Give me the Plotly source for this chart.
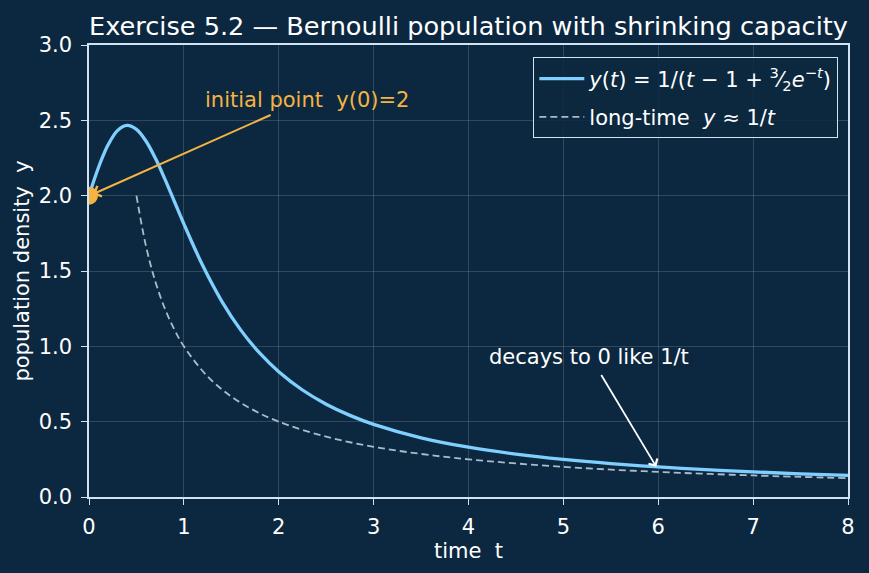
import plotly.graph_objects as go

# solution curve samples y(t) = 1/(t - 1 + 1.5 e^{-t})
t_sol = [0.0, 0.05, 0.1, 0.15, 0.2, 0.3, 0.4, 0.5, 0.6, 0.7, 0.8, 0.9, 1.0, 1.2, 1.4, 1.6, 1.8, 2.0,
         2.25, 2.5, 2.75, 3.0, 3.5, 4.0, 4.5, 5.0, 5.5, 6.0, 6.5, 7.0, 7.5, 8.0]
y_sol = [2.0, 2.0978, 2.1870, 2.2667, 2.3359, 2.4318, 2.4662, 2.4402, 2.3628, 2.2478, 2.1097, 1.9613,
         1.8122, 1.5342, 1.2989, 1.1076, 0.9542, 0.8313, 0.7102, 0.6161, 0.5417, 0.4820, 0.3929,
         0.3303, 0.2844, 0.2494, 0.2219, 0.1999, 0.1817, 0.1666, 0.1538, 0.1429]

# long-time approximation y ~ 1/t
t_asym = [0.5, 0.6, 0.7, 0.8, 0.9, 1.0, 1.25, 1.5, 1.75, 2.0, 2.5, 3.0, 3.5, 4.0, 5.0, 6.0, 7.0, 8.0]
y_asym = [2.0, 1.6667, 1.4286, 1.25, 1.1111, 1.0, 0.8, 0.6667, 0.5714, 0.5, 0.4, 0.3333, 0.2857,
          0.25, 0.2, 0.1667, 0.1429, 0.125]

t0, y0 = [0.0], [2.0]

x_ticks = [0, 1, 2, 3, 4, 5, 6, 7, 8]
y_ticks = [0.0, 0.5, 1.0, 1.5, 2.0, 2.5, 3.0]

BG = "#0c2840"
FG = "#ffffff"
AX = "#cfe3f2"
BLUE = "#80d0ff"
GRAY = "#a9bccb"
ORANGE = "#f5b342"
FONT = "DejaVu Sans, sans-serif"
FS = 21

fig = go.Figure()
fig.add_trace(go.Scatter(
    x=t_sol, y=y_sol, mode="lines", line=dict(color=BLUE, width=3.3, shape="spline"),
    legendgroup="a",
    name="<i>y</i>(<i>t</i>) = 1/(<i>t</i> − 1 + <sup>3</sup>⁄<sub>2</sub><i>e</i><sup>−<i>t</i></sup>)"))
fig.add_trace(go.Scatter(
    x=t_asym, y=y_asym, mode="lines", line=dict(color=GRAY, width=1.8, dash="7px,4px", shape="spline"),
    legendgroup="b",
    name="long-time  <i>y</i> ≈ 1/<i>t</i>"))
fig.add_trace(go.Scatter(
    x=t0, y=y0, mode="markers", marker=dict(color=ORANGE, size=18), showlegend=False))

fig.add_annotation(x=0.04, y=2.01, ax=1.93, ay=2.54, xref="x", yref="y", axref="x", ayref="y",
                   text="", showarrow=True, arrowhead=4, arrowsize=1.1, arrowwidth=2, arrowcolor=ORANGE)
fig.add_annotation(x=1.2, y=2.635, xref="x", yref="y", text="initial point  y(0)=2", showarrow=False,
                   xanchor="left", yanchor="middle", font=dict(color=ORANGE, size=FS, family=FONT))
fig.add_annotation(x=5.98, y=0.2, ax=5.39, ay=0.82, xref="x", yref="y", axref="x", ayref="y",
                   text="", showarrow=True, arrowhead=4, arrowsize=1.1, arrowwidth=1.8, arrowcolor=FG)
fig.add_annotation(x=4.2, y=0.929, xref="x", yref="y", text="decays to 0 like 1/t", showarrow=False,
                   xanchor="left", yanchor="middle", font=dict(color=FG, size=FS, family=FONT))

axis_common = dict(showline=True, linecolor=AX, linewidth=1.5, mirror=True, ticks="outside",
                   ticklen=6, tickwidth=1.2, tickcolor=AX, gridcolor="rgba(255,255,255,0.15)",
                   gridwidth=1, zeroline=False, tickfont=dict(color=FG, size=FS, family=FONT))
fig.update_xaxes(range=[0, 8], tickvals=x_ticks, ticklabelstandoff=4,
                 title=dict(text="time  t", font=dict(color=FG, size=FS, family=FONT), standoff=4),
                 **axis_common)
fig.update_yaxes(range=[0, 3], tickvals=y_ticks, tickformat=".1f", ticklabelstandoff=5,
                 title=dict(text="population density  y", font=dict(color=FG, size=FS, family=FONT), standoff=3),
                 **axis_common)

fig.update_layout(
    width=869, height=573, paper_bgcolor=BG, plot_bgcolor=BG,
    margin=dict(l=89, r=21, t=45, b=76),
    title=dict(text="Exercise 5.2 — Bernoulli population with shrinking capacity", x=0.5, xref="paper",
               y=0.955, yref="container", xanchor="center", yanchor="middle",
               font=dict(color=FG, size=25.6, family=FONT)),
    font=dict(family=FONT, color=FG),
    legend=dict(x=0.987, y=0.973, xanchor="right", yanchor="top", bgcolor="rgba(12,40,64,0.85)",
                bordercolor=AX, borderwidth=1.2, tracegroupgap=8, itemwidth=45,
                font=dict(color=FG, size=FS, family=FONT)),
    showlegend=True,
)

fig.write_html("out.html")
